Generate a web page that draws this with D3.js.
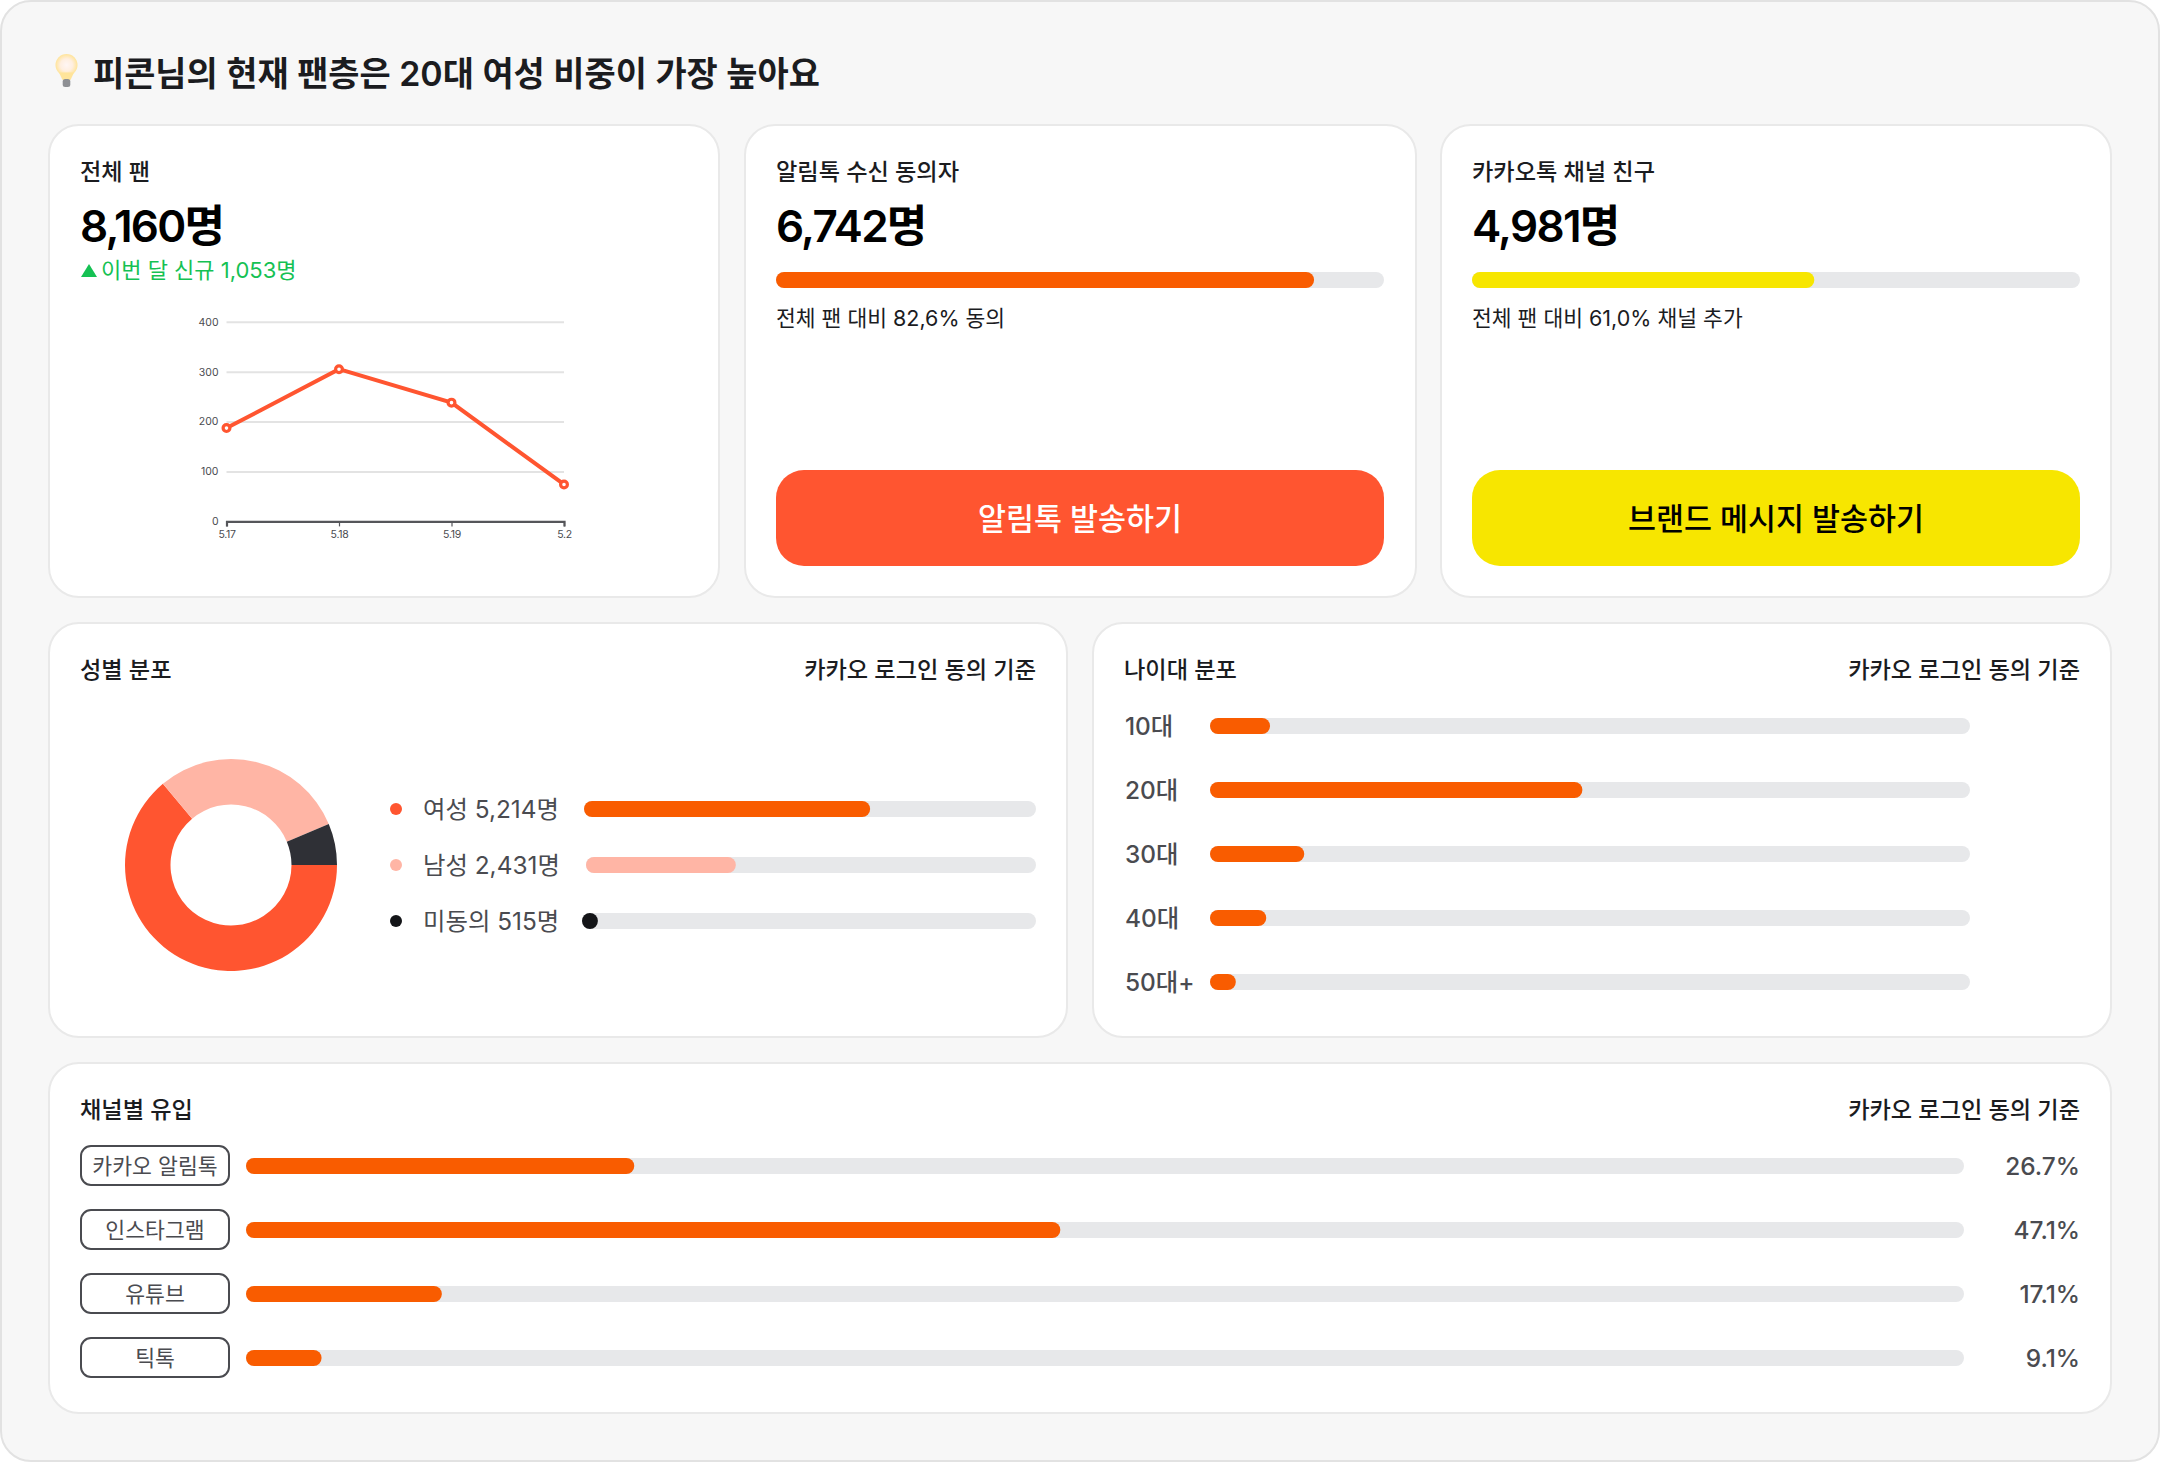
<!DOCTYPE html>
<html lang="ko"><head><meta charset="utf-8">
<script src="https://cdn.jsdelivr.net/npm/d3@7"></script>
<style>
html,body{margin:0;padding:0;background:#fff}
svg{display:block}
text{font-family:Inter,"Noto Sans CJK KR",sans-serif}
</style></head><body><svg id="c" width="2160" height="1462"></svg>
<script>
const titleText="피콘님의 현재 팬층은 20대 여성 비중이 가장 높아요";
const lineDates=["5.17","5.18","5.19","5.2"];
const lineValues=[187,305,238,74];
const lineTicks=[0,100,200,300,400];
const genderNames=["여성","남성","미동의"];
const genderCounts=[5214,2431,515];
const genderLabels=["여성 5,214명","남성 2,431명","미동의 515명"];
const genderBarPct=[63.3,33.3,3.5];
const ageNames=["10대","20대","30대","40대","50대+"];
const ageBarPct=[7.9,49,12.4,7.4,3.4];
const channelNames=["카카오 알림톡","인스타그램","유튜브","틱톡"];
const channelLabels=["26.7%","47.1%","17.1%","9.1%"];
const channelBarPct=[22.6,47.4,11.4,4.4];
const ORANGE="#F95C00",CORAL="#FF5530",PINK="#FFB5A5",DARK="#2F3036",BLACK="#141518",TRACK="#E7E8EA",GREY="#4A4B50",INK="#1B1C1F";
const svg=d3.select("#c");
function rect(x,y,w,h,r,fill,stroke,sw){return svg.append("rect").attr("x",x).attr("y",y).attr("width",w).attr("height",h).attr("rx",r).attr("fill",fill).attr("stroke",stroke||"none").attr("stroke-width",sw||0);}
function text(x,y,s,size,weight,fill,anchor,ls){return svg.append("text").attr("x",x).attr("y",y).text(s).attr("font-size",size).attr("font-weight",weight).attr("fill",fill).attr("text-anchor",anchor||"start").attr("letter-spacing",ls||0);}
function card(x0,y0,x1,y1){rect(x0,y0,x1-x0,y1-y0,30,"#fff","#E9E9E9",2);}
function bar(x0,x1,y,pct,color,h){
  const s=d3.scaleLinear().domain([0,100]).range([x0,x1]);
  rect(x0,y,x1-x0,h||16,8,TRACK);
  rect(x0,y,s(pct)-x0,h||16,8,color);
}
// background
rect(1,1,2158,1460,30,"#F7F7F7","#E2E2E2",2);
// title with bulb
const grad=svg.append("defs").append("radialGradient").attr("id","glow");
grad.append("stop").attr("offset","0%").attr("stop-color","#FFF6F4");
grad.append("stop").attr("offset","55%").attr("stop-color","#FFEFE0");
grad.append("stop").attr("offset","100%").attr("stop-color","#FFE49A");
const b=svg.append("g").attr("transform","translate(66.5,65)");
b.append("circle").attr("r",11).attr("fill","url(#glow)");
b.append("path").attr("d","M-7.5 7.5 L7.5 7.5 L4 15 L-4 15 Z").attr("fill","#FFE49A");
b.append("rect").attr("x",-3.8).attr("y",14).attr("width",7.6).attr("height",8).attr("rx",2.5).attr("fill","#8E9094");
text(93,86,titleText,33.9,600,INK);
// top cards
card(49,125,719,597);card(745,125,1416,597);card(1441,125,2111,597);
text(80,180,"전체 팬",23.2,500,INK);
text(80,242,"8,160명",44,600,"#000","start",-1.7);
svg.append("path").attr("d","M81 277 L97 277 L89 264 Z").attr("fill","#15C153");
text(101,278,"이번 달 신규 1,053명",22,400,"#15C153");
// line chart
const lx=d3.scalePoint().domain(lineDates).range([226.5,564]);
const ly=d3.scaleLinear().domain([0,400]).range([521.4,321.8]);
const gy=svg.append("g").attr("transform","translate(226.5,0)")
  .call(d3.axisLeft(ly).tickValues(lineTicks).tickSize(0).tickPadding(8).tickFormat(d3.format("d")));
gy.select(".domain").remove();
gy.selectAll("text").attr("font-size",10.5).attr("fill",GREY).attr("font-family",'Inter,"Noto Sans CJK KR",sans-serif');
gy.selectAll(".tick").filter(d=>d>0).append("line").attr("x1",0).attr("x2",337.5).attr("stroke","#E3E3E3").attr("stroke-width",2);
const gx=svg.append("g").attr("transform","translate(0,521.4)")
  .call(d3.axisBottom(lx).tickSize(5).tickPadding(4));
gx.select(".domain").attr("stroke","#55565A").attr("stroke-width",2.2);
gx.selectAll("line").attr("stroke","#55565A").attr("stroke-width",1.2);
gx.selectAll("text").attr("font-size",10.5).attr("fill",GREY).attr("font-family",'Inter,"Noto Sans CJK KR",sans-serif').attr("letter-spacing",-.3);
svg.append("path").datum(lineValues).attr("fill","none").attr("stroke",CORAL).attr("stroke-width",4)
  .attr("d",d3.line().x((d,i)=>lx(lineDates[i])).y(d=>ly(d)));
svg.selectAll(".pt").data(lineValues).join("circle").attr("class","pt")
  .attr("cx",(d,i)=>lx(lineDates[i])).attr("cy",d=>ly(d)).attr("r",3.4).attr("fill","#fff").attr("stroke",CORAL).attr("stroke-width",3.2);
// consent card
text(776,180,"알림톡 수신 동의자",23.2,500,INK);
text(776,242,"6,742명",44,600,"#000","start",-1.7);
bar(776,1384,272,88.5,ORANGE);
text(776,326,"전체 팬 대비 82,6% 동의",21.5,400,INK);
rect(776,470,608,96,28,CORAL);
text(1080,530,"알림톡 발송하기",30.4,500,"#fff","middle");
// kakao card
text(1472,180,"카카오톡 채널 친구",23.2,500,INK);
text(1472,242,"4,981명",44,600,"#000","start",-1.7);
bar(1472,2080,272,56.3,"#F7E600");
text(1472,326,"전체 팬 대비 61,0% 채널 추가",21.5,400,INK);
rect(1472,470,608,96,28,"#F7E600");
text(1776,530,"브랜드 메시지 발송하기",30.4,500,"#000","middle");
// gender card
card(49,623,1067,1037);
text(80,678,"성별 분포",23.2,500,INK);
text(1036,678,"카카오 로그인 동의 기준",23.2,500,INK,"end");
const pie=d3.pie().sort(null).startAngle(Math.PI/2).endAngle(Math.PI*2.5);
const arc=d3.arc().innerRadius(60.5).outerRadius(106);
const pieColors=[CORAL,PINK,DARK];
svg.append("g").attr("transform","translate(231,865)").selectAll("path").data(pie(genderCounts)).join("path").attr("d",arc).attr("fill",(d,i)=>pieColors[i]);
const gColors=[CORAL,PINK,BLACK],gBars=[ORANGE,PINK,BLACK],gStart=[584,586,582],gY=[809,865,921];
genderNames.forEach((n,i)=>{
  svg.append("circle").attr("cx",396).attr("cy",gY[i]).attr("r",6).attr("fill",gColors[i]);
  text(423,gY[i]+9,genderLabels[i],24.4,400,GREY);
  bar(gStart[i],1036,gY[i]-8,genderBarPct[i],gBars[i]);
});
// age card
card(1093,623,2111,1037);
text(1124,678,"나이대 분포",23.2,500,INK);
text(2080,678,"카카오 로그인 동의 기준",23.2,500,INK,"end");
ageNames.forEach((n,i)=>{
  const y=718+i*64;
  text(1125,y+17,n,24.4,500,GREY);
  bar(1210,1970,y,ageBarPct[i],ORANGE);
});
// channel card
card(49,1063,2111,1413);
text(80,1118,"채널별 유입",23.2,500,INK);
text(2080,1118,"카카오 로그인 동의 기준",23.2,500,INK,"end");
channelNames.forEach((n,i)=>{
  const y=1158+i*64;
  rect(81,y-12,148,39,10,"#fff",GREY,2);
  text(155,y+16,n,21.6,400,GREY,"middle");
  bar(246,1964,y,channelBarPct[i],ORANGE);
  text(2080,y+17,channelLabels[i],24.4,500,GREY,"end");
});
</script></body></html>
